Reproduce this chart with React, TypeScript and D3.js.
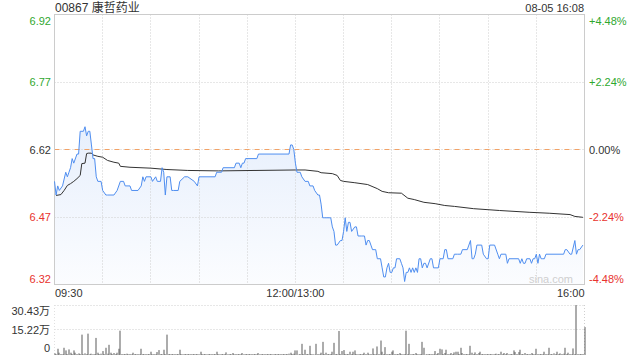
import React from 'react';
import * as d3 from 'd3';

const title = '00867 康哲药业';
const stamp = '08-05 16:08';
const watermark = 'sina.com';
const prevClose = 6.62;
const pctTicks = [4.48, 2.24, 0, -2.24, -4.48];
const priceLabels = ['6.92', '6.77', '6.62', '6.47', '6.32'];
const pctLabels = ['+4.48%', '+2.24%', '0.00%', '-2.24%', '-4.48%'];
const timeLabels = ['09:30', '12:00/13:00', '16:00'];
const timeLabelMinutes = [0, 150, 330];
const gridMinutes = [30, 60, 90, 120, 150, 180, 210, 240, 270, 300];
const volTicks = [30.43, 15.22, 0];
const volLabels = ['30.43万', '15.22万', '0'];

// minute index since 09:30 (lunch removed) and last price
const priceMinutes = [
  0, 1, 2, 3, 5, 7, 8, 9, 10, 11, 12, 14, 15, 16, 18, 19, 20, 21, 22, 23, 24, 25, 26, 27, 29, 30, 32, 33, 37, 39,
  41, 43, 44, 47, 48, 52, 54, 55, 56, 57, 60, 61, 63, 64, 66, 67, 68, 69, 70, 72, 73, 74, 77, 78, 81, 83, 87, 89, 90, 100,
  101, 104, 105, 112, 113, 115, 116, 117, 118, 119, 126, 127, 146, 147, 148, 149, 150, 151, 153, 154, 156, 158, 159, 161, 162, 164, 165, 166, 167, 168,
  172, 173, 174, 175, 176, 178, 179, 180, 181, 182, 183, 184, 185, 187, 188, 189, 191, 192, 193, 194, 195, 196, 197, 198, 199, 200, 201, 203, 204, 205,
  206, 207, 208, 209, 210, 211, 212, 213, 215, 216, 217, 218, 219, 220, 221, 222, 223, 224, 225, 226, 227, 228, 229, 230, 231, 232, 234, 235, 236, 239,
  240, 242, 243, 244, 245, 248, 249, 250, 251, 253, 254, 257, 258, 259, 260, 261, 262, 263, 266, 267, 269, 270, 271, 274, 276, 277, 278, 281, 282, 283,
  289, 290, 291, 292, 293, 294, 296, 297, 298, 299, 300, 301, 302, 303, 304, 305, 306, 317, 318, 319, 321, 322, 324, 325, 326, 327, 329,
];
const prices = [
  6.55, 6.52, 6.54, 6.53, 6.54, 6.57, 6.56, 6.57, 6.58, 6.60, 6.59, 6.61, 6.61, 6.66, 6.66, 6.67, 6.65, 6.66, 6.66, 6.63, 6.60, 6.60, 6.56, 6.55, 6.55, 6.53, 6.52, 6.52, 6.52, 6.53,
  6.55, 6.55, 6.54, 6.54, 6.53, 6.53, 6.54, 6.56, 6.55, 6.56, 6.56, 6.55, 6.56, 6.55, 6.55, 6.58, 6.57, 6.52, 6.56, 6.56, 6.53, 6.53, 6.53, 6.55, 6.56, 6.56, 6.55, 6.54, 6.56, 6.56,
  6.57, 6.57, 6.58, 6.58, 6.59, 6.59, 6.58, 6.59, 6.59, 6.60, 6.60, 6.61, 6.61, 6.63, 6.63, 6.62, 6.59, 6.57, 6.57, 6.56, 6.55, 6.55, 6.54, 6.54, 6.53, 6.52, 6.52, 6.50, 6.47, 6.47,
  6.47, 6.45, 6.44, 6.41, 6.41, 6.42, 6.42, 6.44, 6.47, 6.44, 6.46, 6.46, 6.44, 6.45, 6.45, 6.43, 6.43, 6.43, 6.43, 6.41, 6.42, 6.42, 6.41, 6.40, 6.40, 6.40, 6.38, 6.38, 6.36, 6.34,
  6.34, 6.36, 6.37, 6.35, 6.35, 6.36, 6.36, 6.38, 6.38, 6.37, 6.36, 6.33, 6.35, 6.35, 6.36, 6.35, 6.36, 6.35, 6.36, 6.35, 6.38, 6.38, 6.36, 6.37, 6.37, 6.36, 6.38, 6.38, 6.36, 6.36,
  6.38, 6.38, 6.40, 6.40, 6.38, 6.38, 6.39, 6.39, 6.39, 6.39, 6.40, 6.40, 6.41, 6.42, 6.38, 6.38, 6.39, 6.41, 6.41, 6.39, 6.38, 6.38, 6.41, 6.41, 6.39, 6.38, 6.39, 6.39, 6.37, 6.38,
  6.38, 6.37, 6.38, 6.37, 6.37, 6.38, 6.38, 6.37, 6.38, 6.38, 6.39, 6.37, 6.39, 6.38, 6.38, 6.38, 6.39, 6.39, 6.40, 6.40, 6.39, 6.39, 6.42, 6.39, 6.40, 6.40, 6.41,
];

// average price line
const avgMinutes = [
  1, 4, 6, 8, 10, 12, 14, 16, 17, 19, 20, 21, 23, 24, 27, 30, 33, 37, 40, 41, 47, 60, 70, 83, 102, 150, 156, 164, 166, 173,
  176, 178, 180, 187, 195, 201, 204, 208, 216, 220, 224, 230, 237, 243, 249, 261, 277, 296, 308, 321, 324, 329,
];
const avgPrices = [
  6.519, 6.521, 6.530, 6.541, 6.545, 6.550, 6.556, 6.563, 6.589, 6.590, 6.611, 6.612, 6.612, 6.608, 6.605, 6.603, 6.596, 6.592, 6.590, 6.583, 6.581, 6.579, 6.576, 6.574, 6.573, 6.575, 6.575, 6.572, 6.569, 6.567,
  6.563, 6.552, 6.550, 6.547, 6.543, 6.534, 6.528, 6.525, 6.524, 6.513, 6.510, 6.504, 6.501, 6.497, 6.495, 6.490, 6.486, 6.482, 6.480, 6.477, 6.473, 6.471,
];

// volume per minute (万股), minute 0..330
const volumes = [
  1.0, 0.5, 3.8, 1.4, 0.6, 0.5, 4.4, 2.8, 0.6, 3.4,
  1.4, 0.6, 2.8, 1.4, 0.6, 1.0, 0.6, 12.4, 0.5, 1.0,
  0.6, 13.0, 0.5, 0.8, 0.5, 0.6, 10.4, 1.4, 0.6, 0.8,
  2.4, 0.6, 4.4, 0.8, 6.2, 1.4, 0.6, 1.2, 0.6, 1.4,
  3.8, 14.8, 0.6, 0.5, 0.6, 0.8, 0.5, 0.6, 0.5, 1.4,
  0.6, 0.5, 0.6, 0.5, 3.8, 0.6, 0.5, 0.6, 0.5, 0.6,
  2.0, 0.5, 0.6, 0.5, 1.8, 3.0, 0.6, 0.5, 3.2, 0.6,
  12.4, 0.6, 0.5, 0.6, 0.5, 0.6, 0.5, 0.6, 3.2, 0.6,
  0.5, 0.6, 0.5, 0.6, 0.5, 0.6, 0.5, 0.6, 0.5, 0.6,
  0.5, 2.0, 0.6, 0.5, 0.6, 0.5, 0.6, 0.5, 0.6, 0.5,
  0.6, 2.0, 0.6, 0.5, 0.6, 0.5, 0.6, 1.6, 0.5, 0.6,
  0.5, 1.2, 0.5, 0.6, 0.5, 0.6, 0.5, 1.2, 0.5, 0.6,
  0.5, 0.6, 0.5, 0.6, 0.5, 0.6, 0.5, 1.2, 0.5, 0.6,
  0.5, 0.6, 0.5, 0.6, 0.5, 0.6, 0.5, 0.6, 0.5, 0.6,
  0.5, 0.6, 0.5, 0.6, 0.5, 0.6, 0.8, 1.4, 0.6, 0.8,
  2.8, 2.8, 0.3, 0.6, 6.8, 0.6, 3.2, 0.6, 0.5, 5.6,
  0.6, 0.5, 0.3, 6.8, 0.6, 0.5, 1.4, 8.0, 0.6, 1.4,
  0.6, 0.5, 0.6, 2.0, 7.4, 0.6, 0.5, 14.6, 0.6, 2.4,
  3.0, 0.6, 0.5, 0.6, 2.0, 0.6, 2.0, 2.8, 0.6, 0.5,
  0.6, 0.5, 0.6, 1.4, 0.6, 1.4, 0.5, 0.6, 4.0, 0.6,
  0.5, 5.2, 0.6, 8.8, 2.0, 0.6, 4.8, 0.6, 0.5, 0.6,
  2.0, 2.8, 0.6, 0.5, 0.6, 1.2, 0.6, 0.5, 0.6, 14.8,
  0.6, 6.8, 0.5, 0.6, 0.5, 1.2, 0.6, 0.5, 0.6, 8.0,
  4.4, 0.3, 0.5, 0.6, 0.5, 0.6, 0.5, 2.4, 0.6, 1.2,
  3.8, 3.4, 0.6, 1.2, 3.2, 0.6, 0.5, 1.2, 0.6, 1.6,
  2.0, 2.0, 0.6, 4.4, 1.2, 0.6, 0.5, 0.6, 0.5, 5.6,
  1.4, 0.6, 1.6, 0.6, 1.2, 2.0, 0.6, 0.5, 0.6, 0.5,
  0.6, 0.5, 0.6, 0.5, 0.6, 0.8, 0.5, 0.6, 2.0, 0.6,
  1.2, 0.6, 1.2, 0.5, 0.6, 0.5, 2.8, 1.8, 0.6, 1.8,
  3.2, 0.6, 0.5, 1.2, 0.6, 0.5, 0.6, 1.2, 0.6, 0.5,
  3.8, 0.6, 0.5, 0.6, 0.5, 2.0, 0.6, 0.5, 4.4, 0.6,
  0.5, 1.0, 0.6, 2.0, 0.6, 1.0, 0.6, 0.8, 4.4, 0.6,
  1.4, 0.6, 0.5, 4.0, 0.6, 30.4, 0.6, 0.5, 0.6, 0.6,
  17.0,
];

const FONT = "'Liberation Sans', Arial, 'Noto Sans CJK SC', sans-serif";
const GREEN = '#2fa82f';
const RED = '#e8332e';
const DARK = '#333333';

export default function App() {
  const L = 54.5, R = 584.5, T = 14.5, B = 284.5;
  const VT = 305, VB = 355;
  const x = d3.scaleLinear().domain([0, 330]).range([L, R]);
  const y = d3
    .scaleLinear()
    .domain([prevClose * (1 - 0.0448), prevClose * (1 + 0.0448)])
    .range([B, T]);
  const yv = d3.scaleLinear().domain([0, 30.43]).range([VB, VT]);

  const pricePts: [number, number][] = priceMinutes.map((m, i) => [m, prices[i]]);
  const avgPts: [number, number][] = avgMinutes.map((m, i) => [m, avgPrices[i]]);
  const line = d3.line<[number, number]>().x((d) => x(d[0])).y((d) => y(d[1]));
  const area = d3
    .area<[number, number]>()
    .x((d) => x(d[0]))
    .y0(B)
    .y1((d) => y(d[1]));

  const levelY = (p: number) => y(prevClose * (1 + p / 100));
  const snap = (v: number) => Math.round(v - 0.5) + 0.5;

  return (
    <div style={{ position: 'absolute', left: 0, top: 0 }}>
      <svg width={640} height={360} style={{ display: 'block', fontFamily: FONT }}>
        <defs>
          <linearGradient id="fillGrad" gradientUnits="userSpaceOnUse" x1="0" y1={T} x2="0" y2={B}>
            <stop offset="0%" stopColor="#3f80ea" stopOpacity={0.2} />
            <stop offset="100%" stopColor="#3f80ea" stopOpacity={0.02} />
          </linearGradient>
        </defs>
        <rect x={0} y={0} width={640} height={360} fill="#fff" />

        {/* title */}
        <text x={55} y={12} fontSize={12} fill={DARK}>{title}</text>
        <text x={584} y={12} fontSize={11} fill={DARK} textAnchor="end">{stamp}</text>

        {/* fill under price */}
        <path d={area(pricePts) || ''} fill="url(#fillGrad)" />

        {/* grid */}
        {gridMinutes.map((m) => (
          <line key={'vg' + m} x1={snap(x(m))} x2={snap(x(m))} y1={T} y2={B} stroke="#cfcfcf" strokeDasharray="1,2" />
        ))}
        {pctTicks.slice(1, 4).map((p) => (
          <line key={'hg' + p} x1={L} x2={R} y1={snap(levelY(p))} y2={snap(levelY(p))} stroke="#cfcfcf" strokeDasharray="1,2" />
        ))}
        <line x1={L} x2={R} y1={snap(levelY(0))} y2={snap(levelY(0))} stroke="#f2a266" strokeDasharray="5,5" />

        {/* frame */}
        <rect x={L} y={T} width={R - L} height={B - T} fill="none" stroke="#cccccc" />

        {/* watermark */}
        <text x={573} y={283} fontSize={11} fill="#cfcfcf" textAnchor="end">{watermark}</text>

        {/* lines */}
        <path d={line(avgPts) || ''} fill="none" stroke="#333" strokeWidth={1} />
        <path d={line(pricePts) || ''} fill="none" stroke="#4f8ef0" strokeWidth={1} />

        {/* price labels */}
        {pctTicks.map((p, i) => {
          const yy = levelY(p);
          const dy = i === 0 ? 10 : i === pctTicks.length - 1 ? -2 : 4;
          const col = p > 0 ? GREEN : p < 0 ? RED : DARK;
          return (
            <g key={'pl' + i}>
              <text x={51} y={yy + dy} fontSize={11} fill={col} textAnchor="end">{priceLabels[i]}</text>
              <text x={589} y={yy + dy} fontSize={11} fill={col}>{pctLabels[i]}</text>
            </g>
          );
        })}

        {/* time labels */}
        {timeLabels.map((t, i) => (
          <text
            key={'tl' + i}
            x={i === 0 ? x(timeLabelMinutes[i]) + 0.5 : i === timeLabels.length - 1 ? x(timeLabelMinutes[i]) : x(timeLabelMinutes[i])}
            y={297}
            fontSize={11}
            fill={DARK}
            textAnchor={i === 0 ? 'start' : i === timeLabels.length - 1 ? 'end' : 'middle'}
          >
            {t}
          </text>
        ))}

        {/* volume panel */}
        {volTicks.slice(0, 2).map((v) => (
          <line key={'vgl' + v} x1={L} x2={R} y1={snap(yv(v))} y2={snap(yv(v))} stroke="#cfcfcf" strokeDasharray="1,2" />
        ))}
        <line x1={R} x2={R} y1={VT} y2={VB} stroke="#cfcfcf" strokeDasharray="1,2" />
        <line x1={L} x2={L} y1={VT} y2={VB} stroke="#e0e0e0" strokeDasharray="1,2" />
        {volumes.map((v, i) => {
          const bx = Math.round(x(i)) - 0.5;
          const top = yv(v);
          return <rect key={'vb' + i} x={bx} y={top} width={1} height={VB - top} fill="#5a5a5a" />;
        })}
        {volTicks.map((v, i) => {
          const dy = i === 0 ? 10 : i === volTicks.length - 1 ? -3 : 4;
          return (
            <text key={'vl' + i} x={50} y={yv(v) + dy} fontSize={11} fill={DARK} textAnchor="end">{volLabels[i]}</text>
          );
        })}
      </svg>
    </div>
  );
}
